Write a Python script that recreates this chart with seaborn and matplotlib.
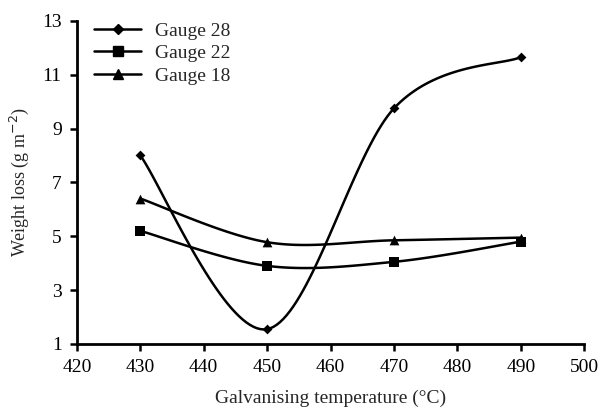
import numpy as np
import pandas as pd
import matplotlib
matplotlib.use("Agg")
import matplotlib.pyplot as plt
import seaborn as sns
from matplotlib.lines import Line2D

temps = [430, 450, 470, 490]
gauge28 = [8.0, 1.55, 9.75, 11.65]
gauge22 = [5.2, 3.9, 4.05, 4.8]
gauge18 = [6.4, 4.78, 4.85, 4.95]
series_names = ["Gauge 28", "Gauge 22", "Gauge 18"]
x_ticks = [420, 430, 440, 450, 460, 470, 480, 490, 500]
y_ticks = [1, 3, 5, 7, 9, 11, 13]


def smooth(xs, ys, n=40):
    # Excel-style smoothed line rendering (Bezier through the points)
    P = np.column_stack([xs, ys]).astype(float)
    Pe = np.vstack([P[0], P, P[-1]])
    out = []
    t = np.linspace(0, 1, n)[:, None]
    for i in range(len(P) - 1):
        p0, p1 = Pe[i + 1], Pe[i + 2]
        b1 = p0 + (Pe[i + 2] - Pe[i]) / 6
        b2 = p1 - (Pe[i + 3] - Pe[i + 1]) / 6
        seg = ((1 - t) ** 3) * p0 + 3 * ((1 - t) ** 2) * t * b1 + 3 * (1 - t) * t ** 2 * b2 + t ** 3 * p1
        out.append(seg if i == 0 else seg[1:])
    c = np.vstack(out)
    return c[:, 0], c[:, 1]


sns.set_style("ticks")
plt.rcParams['font.family'] = ['Liberation Serif', 'DejaVu Serif']

fig = plt.figure(figsize=(6.01, 4.09), dpi=100)
ax = fig.add_axes([0.128, 0.159, 0.844, 0.790])

markers = ["D", "s", "^"]
msizes = [5, 7, 7]
handles = []
for name, vals, mk, ms in zip(series_names, [gauge28, gauge22, gauge18], markers, msizes):
    sx, sy = smooth(temps, vals)
    df_line = pd.DataFrame({"x": sx, "y": sy})
    sns.lineplot(data=df_line, x="x", y="y", ax=ax, color="black", lw=1.8, sort=False, estimator=None)
    df_pts = pd.DataFrame({"x": temps, "y": vals})
    sns.scatterplot(data=df_pts, x="x", y="y", ax=ax, marker=mk, color="black", s=ms ** 2, edgecolor="black", linewidth=0, zorder=3)
    handles.append(Line2D([], [], color="black", lw=1.8, marker=mk, markersize=ms))

ax.set_xlim(420, 500)
ax.set_ylim(1, 13)
ax.set_xticks(x_ticks)
ax.set_yticks(y_ticks)
ax.tick_params(direction="out", length=5, width=1.8, labelsize=14, colors="black", pad=6)
for s in ["left", "bottom"]:
    ax.spines[s].set_linewidth(2.0)
    ax.spines[s].set_color("black")
sns.despine(ax=ax)
ax.set_xlabel("Galvanising temperature (°C)", fontsize=14, labelpad=10)
ax.set_ylabel("Weight loss (g m$^{-2}$)", fontsize=13, labelpad=8)

ax.legend(handles=handles, labels=series_names, loc="upper left", bbox_to_anchor=(0.0, 1.05),
          frameon=False, fontsize=14, handlelength=2.4, handletextpad=0.7, labelspacing=0.25, borderaxespad=0.5)

fig.savefig("out.png", dpi=100)
